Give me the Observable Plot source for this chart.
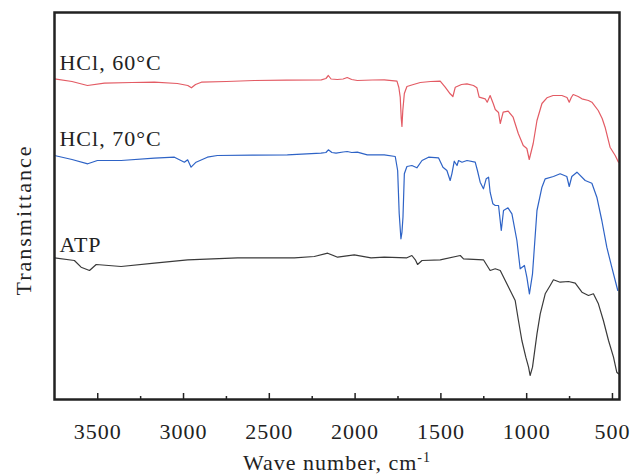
<!DOCTYPE html>
<html>
<head>
<meta charset="utf-8">
<script src="https://cdn.jsdelivr.net/npm/d3@7"></script>
<script src="https://cdn.jsdelivr.net/npm/@observablehq/plot@0.6"></script>
<style>
  html, body { margin: 0; padding: 0; background: #fff; }
</style>
</head>
<body>
<div id="chart"></div>
<script>
// Series names and colours
const seriesNames = ["HCl, 60°C", "HCl, 70°C", "ATP"];
const seriesColors = ["#e35b64", "#2e63c6", "#3a3a3a"];

// Spectra: [wave number (cm^-1), transmittance (a.u., offset stacked)]
const hcl60 = [
  [3752,321.7],[3650,319],[3560,315],[3461,317.3],[3300,318],[3170,318.3],[3036,317],[2975,315],[2954,312.7],[2930,316],[2896,318.3],
  [2750,319],[2587,320],[2400,320.3],[2197,320.7],[2170,322],[2156,325],[2140,321.5],[2104,321],[2070,321.5],[2046,323],[2020,321],[1987,320],[1900,320.5],
  [1830,320.7],[1756,319.3],[1745,313],[1737,303.3],[1731,282],[1727,274],[1722,290],[1713,307],[1698,314],[1660,316],[1620,318],
  [1560,319],[1504,319.3],[1475,313.3],[1446,306.7],[1430,304],[1416,313.3],[1380,316],[1348,316.7],[1310,315],[1290,312.7],
  [1277,303.3],[1242,301.7],[1230,298.3],[1213,305],[1195,297],[1183,291],[1164,288],[1154,277],[1137,288.3],[1108,289.3],
  [1079,283.3],[1049,267],[1020,255],[999,252],[985,241],[962,257],[940,280],[911,297],[882,302.7],[846,305],
  [795,305],[765,303],[752,298.3],[740,303],[729,306],[700,304],[678,301.7],[640,300],[620,298.3],[583,290],[560,282],[543,273.3],
  [514,253.3],[495,248],[484,245],[465,238.3]
];
const hcl70 = [
  [3752,245],[3650,241],[3558,236.7],[3502,240],[3364,240],[3170,242.3],[3053,243.3],[2995,238.3],[2976,240.7],[2956,233.3],
  [2927,238.3],[2861,243.3],[2803,245],[2600,245.3],[2395,245.7],[2199,247.3],[2170,248],[2156,250.7],[2135,248],[2111,247.3],[2070,248.5],
  [2046,249],[2020,248],[1987,248.3],[1929,245.7],[1830,245.7],[1766,244],[1752,230],[1743,187],[1733,161.7],[1727,168],
  [1721,183.3],[1713,226.7],[1698,234],[1669,235],[1640,232.7],[1610,240],[1572,243.3],[1514,242.7],[1488,233.3],
  [1465,230],[1446,220],[1436,226.7],[1422,239.3],[1406,235],[1397,240],[1377,238.3],[1348,240],[1300,238.3],
  [1287,230],[1271,218.3],[1252,211.7],[1236,221.7],[1222,223.3],[1213,208.3],[1197,196.7],[1183,195],[1164,195],
  [1148,170],[1135,190],[1109,192.7],[1086,186.7],[1057,160],[1038,131.7],[1013,135],[999,123.3],[984,106.7],
  [966,126.7],[940,190],[911,213.3],[892,221.7],[844,224],[805,226.7],[766,224],[752,214],[737,224],[707,228.3],
  [659,220],[620,217.3],[591,203.3],[562,180],[533,153.3],[504,133.3],[484,120],[469,110]
];
const atp = [
  [3752,142.7],[3636,140],[3597,133.3],[3548,130],[3509,136],[3364,134],[3170,137.3],[2976,140.7],[2685,142.7],
  [2354,142.7],[2238,144],[2160,147.3],[2102,143.3],[2005,145.7],[1907,142.7],[1830,143.3],[1698,142.7],[1669,145],
  [1649,140.7],[1636,136],[1610,140],[1504,140.7],[1387,145],[1368,141.7],[1252,140.7],[1213,130],[1183,131.7],
  [1154,130],[1125,120],[1096,110],[1067,100],[1048,80],[1028,60],[1005,43.3],[989,33.3],[980,25],[966,33.3],
  [940,66.7],[921,86.7],[892,106.7],[863,115],[844,120.7],[805,118.3],[756,119],[717,117.3],[678,108.3],[640,105],
  [611,106.7],[582,96.7],[553,80],[523,60],[494,43.3],[475,28.3],[465,26.7]
];

// Axis ticks
const xMajorTicks = [3500, 3000, 2500, 2000, 1500, 1000, 500];
const xMinorTicks = [3250, 2750, 2250, 1750, 1250, 750];
const xDomain = [3752, 459];
const yDomain = [1, 388];

// Series label anchors (wave number, transmittance)
const labelX = [3723, 3723, 3723];
const labelY = [338, 262, 156];

const spectra = [hcl60, hcl70, atp].flatMap((s, i) =>
  s.map(([wn, t]) => ({series: seriesNames[i], wn, t})));
const labels = seriesNames.map((name, i) => ({name, x: labelX[i], y: labelY[i]}));

const font = "'Liberation Serif', 'Times New Roman', serif";
const plotH = 474 - 12 - 75;

const chart = Plot.plot({
  width: 633,
  height: 474,
  marginLeft: 54,
  marginRight: 14,
  marginTop: 12,
  marginBottom: 75,
  style: {fontFamily: font, background: "#fff", color: "#222", letterSpacing: "1px"},
  x: {domain: xDomain, axis: null},
  y: {domain: yDomain, axis: null},
  color: {domain: seriesNames, range: seriesColors},
  marks: [
    Plot.line(spectra, {x: "wn", y: "t", z: "series", stroke: "series", strokeWidth: 1.2}),
    Plot.text(labels, {x: "x", y: "y", text: "name", textAnchor: "start", lineAnchor: "middle", fontSize: 22, fill: "#222"}),
    Plot.axisX(xMajorTicks, {anchor: "bottom", tickSize: 0, tickPadding: 24, fontSize: 22, label: null, tickFormat: d => String(d)}),
    Plot.tickX(xMajorTicks, {x: d => d, insetTop: plotH - 6, stroke: "#222", strokeWidth: 1.5}),
    Plot.tickX(xMinorTicks, {x: d => d, insetTop: plotH - 3, stroke: "#222", strokeWidth: 1.5}),
    Plot.text(["Wave number, cm"], {frameAnchor: "bottom", textAnchor: "middle", lineAnchor: "middle", dy: 63, fontSize: 22, fill: "#222"}),
    Plot.text(["Transmittance"], {frameAnchor: "left", textAnchor: "middle", lineAnchor: "middle", rotate: -90, dx: -31, dy: 14, fontSize: 22, fill: "#222"}),
    Plot.frame({stroke: "#222", strokeWidth: 2.5})
  ]
});

// Superscript "-1" on the unit, and wider tracking on the y label
for (const t of chart.querySelectorAll("text")) {
  if (t.textContent === "Wave number, cm") {
    const sup = document.createElementNS("http://www.w3.org/2000/svg", "tspan");
    sup.setAttribute("dy", "-0.55em");
    sup.setAttribute("font-size", "14");
    sup.textContent = "-1";
    t.appendChild(sup);
  }
  if (t.textContent === "Transmittance") t.style.letterSpacing = "2px";
}

document.getElementById("chart").appendChild(chart);
</script>
</body>
</html>
